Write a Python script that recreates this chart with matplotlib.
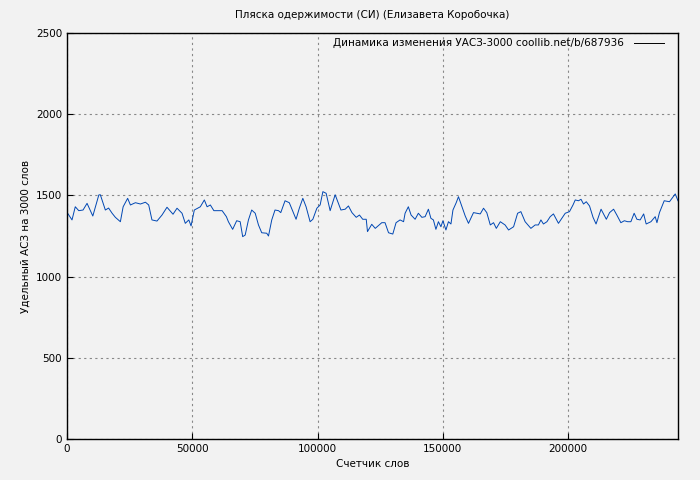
import matplotlib
matplotlib.use("Agg")
import matplotlib.pyplot as plt

# word counter vs. specific ACS per 3000 words
words = [0, 2000, 3300, 4700, 6400, 8000, 10300, 12700, 13300, 15300, 16600, 18000,
         19300, 21300, 22400, 24200, 25300, 27300, 29300, 31300, 32600, 33900, 35900,
         37900, 39900, 42300, 43900, 45900, 47200, 48600, 49500, 50800, 53200, 54800,
         55900, 57200, 58600, 61900, 63600, 64400, 66100, 67700, 69100, 70100, 71100,
         72400, 73700, 75100, 76400, 77700, 79700, 80400, 81700, 83000, 84400, 85300,
         87000, 88700, 91400, 92700, 94100, 95400, 97000, 98100, 99700, 101000, 102100,
         103400, 105000, 107000, 109300, 111000, 112300, 113700, 115400, 116700, 118000,
         119400, 119900, 121600, 123000, 125600, 126900, 128300, 130000, 131300, 132900,
         134300, 134900, 136200, 137300, 138900, 140200, 141600, 142900, 144200, 145200,
         146200, 147200, 148200, 149200, 150000, 151200, 152200, 153200, 154000, 155300,
         156200, 157600, 158900, 160200, 162200, 164900, 166200, 167500, 168900, 170200,
         171300, 172900, 174800, 176200, 178200, 179800, 181100, 182800, 185100, 186800,
         188100, 189100, 190100, 191500, 192800, 194100, 196100, 198800, 200500, 201900,
         202800, 204100, 205100, 206100, 207200, 208500, 209900, 211100, 213100, 215200,
         216500, 218100, 219400, 221000, 222400, 223700, 225000, 226300, 227400, 228700,
         230100, 231100, 233000, 234700, 235400, 236400, 238300, 240400, 242700, 243800]
acs = [1396, 1349, 1430, 1406, 1410, 1451, 1373, 1503, 1504, 1410, 1422, 1390,
       1365, 1338, 1430, 1482, 1441, 1455, 1447, 1458, 1441, 1349, 1342,
       1379, 1427, 1384, 1421, 1390, 1328, 1349, 1312, 1410, 1430, 1472,
       1430, 1441, 1406, 1406, 1369, 1338, 1291, 1344, 1338, 1246, 1256,
       1349, 1410, 1390, 1318, 1270, 1267, 1250, 1349, 1410, 1406, 1394,
       1467, 1455, 1353, 1421, 1482, 1430, 1338, 1353, 1421, 1441, 1523,
       1513, 1406, 1504, 1410, 1415, 1435, 1394, 1365, 1379, 1353,
       1353, 1277, 1322, 1297, 1332, 1332, 1270, 1262, 1332, 1349,
       1338, 1390, 1430, 1379, 1353, 1390, 1365, 1369, 1415, 1359,
       1349, 1291, 1338, 1307, 1344, 1287, 1338, 1324, 1410, 1455,
       1492, 1430, 1373, 1328, 1394, 1386, 1421, 1394, 1318, 1332,
       1297, 1338, 1318, 1287, 1307, 1390, 1400, 1338, 1297, 1318,
       1318, 1349, 1324, 1338, 1369, 1386, 1328, 1390, 1400, 1441,
       1472, 1467, 1476, 1447, 1461, 1435, 1365, 1324, 1415, 1353,
       1394, 1415, 1379, 1332, 1344, 1338, 1338, 1390, 1353, 1349,
       1386, 1324, 1338, 1369, 1332, 1394, 1467, 1461, 1509, 1467]

bg = "#f2f2f2"
fs = 7.5
fig = plt.figure(figsize=(7, 4.8), dpi=100, facecolor=bg)
ax = fig.add_axes([67 / 700, 41 / 480, 611 / 700, 406 / 480], facecolor=bg)

ax.plot(words, acs, color="#0047b3", lw=0.7,
        label="Динамика изменения УАСЗ-3000 coollib.net/b/687936")

ax.set_xlim(0, 243800)
ax.set_ylim(0, 2500)
ax.set_xticks(range(0, 243800, 50000))
ax.set_yticks(range(0, 2501, 500))
ax.grid(True, color="#888888", ls=(0, (2, 3)), lw=0.8)
ax.tick_params(direction="in", labelsize=fs, length=4)
for s in ax.spines.values():
    s.set_linewidth(1)

ax.set_title("Пляска одержимости (СИ) (Елизавета Коробочка)", fontsize=fs, pad=11)
ax.set_xlabel("Счетчик слов", fontsize=fs, labelpad=4)
ax.set_ylabel("Удельный АСЗ на 3000 слов", fontsize=fs)

leg = ax.legend(loc="upper right", fontsize=fs, frameon=False, markerfirst=False,
                handlelength=2.8, handletextpad=1.0, borderaxespad=0.1,
                bbox_to_anchor=(0.985, 1.0))
for h in leg.legend_handles:
    h.set_color("black")
    h.set_linewidth(0.7)

fig.savefig("out.png", dpi=100, facecolor=bg)
